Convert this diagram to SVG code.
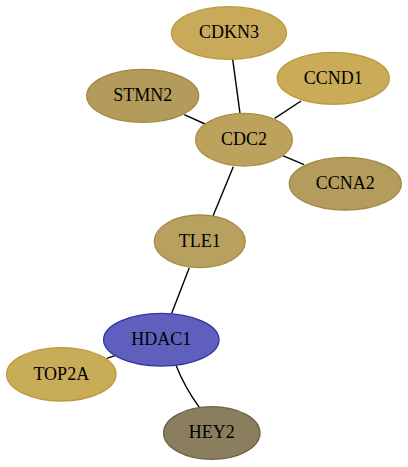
<svg xmlns="http://www.w3.org/2000/svg" width="408" height="467" viewBox="0 0 408 467">
<style>
.e{stroke:#000;stroke-width:1.4;fill:none}
.n ellipse{stroke-width:1.3}
.n text{font-family:"Liberation Serif","Times New Roman",serif;font-size:18px;text-anchor:middle;fill:#000}
</style>
<rect width="408" height="467" fill="#fff"/>
<g id="edges">
<path class="e" d="M232.7,59.3L240,113.3"/>
<path class="e" d="M301,101L274.7,118.3"/>
<path class="e" d="M184.3,114.7L205,124"/>
<path class="e" d="M304,164.7L282.7,155.7"/>
<path class="e" d="M233.3,166.7L212.7,216.7"/>
<path class="e" d="M189.3,267.7L171.7,313.3"/>
<path class="e" d="M115,355.7L106.7,358.3"/>
<path class="e" d="M176,365.3Q185,388 199.3,407.3"/>
</g>
<g id="CDKN3" class="n"><ellipse cx="229" cy="33" rx="57.5" ry="26.3" fill="#c8aa5a" stroke="#bb9a3c"/><text x="229" y="38.2">CDKN3</text></g>
<g id="CCND1" class="n"><ellipse cx="333.3" cy="78.3" rx="56" ry="26" fill="#c9ab58" stroke="#bb9a3c"/><text x="333.3" y="83.5">CCND1</text></g>
<g id="STMN2" class="n"><ellipse cx="142.7" cy="95.8" rx="56" ry="26.5" fill="#b39b5b" stroke="#a08844"/><text x="142.7" y="101">STMN2</text></g>
<g id="CDC2" class="n"><ellipse cx="244" cy="139.7" rx="48.3" ry="26.3" fill="#bca25c" stroke="#aa9044"/><text x="244" y="144.9">CDC2</text></g>
<g id="CCNA2" class="n"><ellipse cx="345.3" cy="183.7" rx="56" ry="26.3" fill="#b49d5c" stroke="#a08844"/><text x="345.3" y="188.9">CCNA2</text></g>
<g id="TLE1" class="n"><ellipse cx="199.8" cy="241.3" rx="45.5" ry="26.3" fill="#b8a05e" stroke="#a68c44"/><text x="199.8" y="246.5">TLE1</text></g>
<g id="HDAC1" class="n"><ellipse cx="161.3" cy="339.7" rx="57.7" ry="26.3" fill="#5f5fbd" stroke="#3434aa"/><text x="161.3" y="344.9">HDAC1</text></g>
<g id="TOP2A" class="n"><ellipse cx="61.3" cy="374.3" rx="54.7" ry="26.7" fill="#c9ac58" stroke="#bb9a3c"/><text x="61.3" y="379.5">TOP2A</text></g>
<g id="HEY2" class="n"><ellipse cx="211.8" cy="433" rx="48.2" ry="26.3" fill="#8b7e5e" stroke="#6f6142"/><text x="211.8" y="438.2">HEY2</text></g>
</svg>
